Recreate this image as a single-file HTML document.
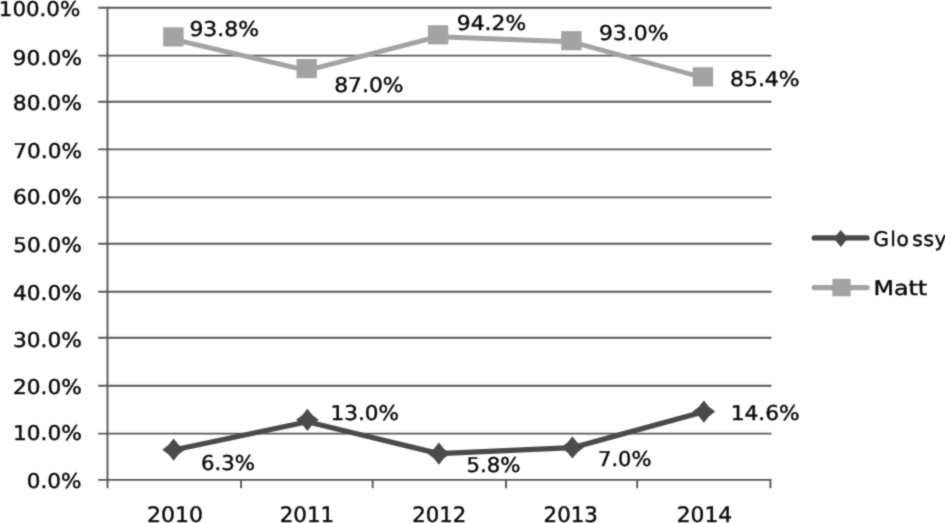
<!DOCTYPE html>
<html lang="en"><head><meta charset="utf-8"><title>Glossy vs Matt</title>
<style>
html,body{margin:0;padding:0;background:#fff;overflow:hidden}
svg{display:block}
text{font-family:"DejaVu Sans","Liberation Sans",sans-serif;fill:#0a0a0a;stroke:#111;stroke-width:0.45px;text-rendering:geometricPrecision}
</style></head><body>
<svg width="945" height="523" viewBox="0 0 945 523">
<defs><filter id="b" x="0" y="0" width="100%" height="100%" color-interpolation-filters="sRGB"><feConvolveMatrix order="3" kernelMatrix="1 3 1 3 14 3 1 3 1" divisor="30" edgeMode="duplicate" preserveAlpha="false"/></filter></defs>
<rect width="945" height="523" fill="#fff"/>
<g filter="url(#b)">

<line x1="98.2" y1="7.8" x2="771.5" y2="7.8" stroke="#585858" stroke-width="1.9"/>
<line x1="98.2" y1="55.6" x2="771.5" y2="55.6" stroke="#585858" stroke-width="1.9"/>
<line x1="98.2" y1="101.8" x2="771.5" y2="101.8" stroke="#585858" stroke-width="1.9"/>
<line x1="98.2" y1="149.4" x2="771.5" y2="149.4" stroke="#585858" stroke-width="1.9"/>
<line x1="98.2" y1="197.4" x2="771.5" y2="197.4" stroke="#585858" stroke-width="1.9"/>
<line x1="98.2" y1="243.8" x2="771.5" y2="243.8" stroke="#585858" stroke-width="1.9"/>
<line x1="98.2" y1="291.8" x2="771.5" y2="291.8" stroke="#585858" stroke-width="1.9"/>
<line x1="98.2" y1="337.8" x2="771.5" y2="337.8" stroke="#585858" stroke-width="1.9"/>
<line x1="98.2" y1="385.8" x2="771.5" y2="385.8" stroke="#585858" stroke-width="1.9"/>
<line x1="98.2" y1="433.6" x2="771.5" y2="433.6" stroke="#585858" stroke-width="1.9"/>
<line x1="98.2" y1="479.9" x2="771.5" y2="479.9" stroke="#585858" stroke-width="1.9"/>
<line x1="107.5" y1="6.8" x2="107.5" y2="488.2" stroke="#585858" stroke-width="1.9"/>
<line x1="241.1" y1="479.9" x2="241.1" y2="488.2" stroke="#585858" stroke-width="1.9"/>
<line x1="372.7" y1="479.9" x2="372.7" y2="488.2" stroke="#585858" stroke-width="1.9"/>
<line x1="506.0" y1="479.9" x2="506.0" y2="488.2" stroke="#585858" stroke-width="1.9"/>
<line x1="637.2" y1="479.9" x2="637.2" y2="488.2" stroke="#585858" stroke-width="1.9"/>
<line x1="770.4" y1="479.9" x2="770.4" y2="488.2" stroke="#585858" stroke-width="1.9"/>
<polyline points="173.4,39.4 306.7,70.4 438.1,36.7 571.4,41.8 702.9,77.5" fill="none" stroke="#a3a3a3" stroke-width="4.9" stroke-linejoin="round" stroke-linecap="round"/>
<rect x="163.2" y="27.3" width="20.4" height="19.2" fill="#a3a3a3"/>
<rect x="296.5" y="59.0" width="20.4" height="19.2" fill="#a3a3a3"/>
<rect x="427.9" y="25.2" width="20.4" height="19.2" fill="#a3a3a3"/>
<rect x="561.2" y="31.1" width="20.4" height="19.2" fill="#a3a3a3"/>
<rect x="692.7" y="67.2" width="20.4" height="19.2" fill="#a3a3a3"/>
<polyline points="173.6,450.0 307.4,421.8 438.9,453.6 572.4,447.7 703.9,411.8" fill="none" stroke="#4a4a4a" stroke-width="5.2" stroke-linejoin="round" stroke-linecap="round"/>
<polygon points="173.6,438.6 178.6,444.8 184.9,449.7 178.6,454.6 173.6,460.8 168.6,454.6 162.3,449.7 168.6,444.8" fill="#4a4a4a"/>
<polygon points="307.4,408.7 312.4,414.9 318.7,419.8 312.4,424.7 307.4,430.9 302.4,424.7 296.1,419.8 302.4,414.9" fill="#4a4a4a"/>
<polygon points="438.9,442.5 443.9,448.7 450.2,453.6 443.9,458.5 438.9,464.7 433.9,458.5 427.6,453.6 433.9,448.7" fill="#4a4a4a"/>
<polygon points="572.4,436.4 577.4,442.6 583.7,447.5 577.4,452.4 572.4,458.6 567.4,452.4 561.1,447.5 567.4,442.6" fill="#4a4a4a"/>
<polygon points="703.9,400.5 708.9,406.7 715.2,411.6 708.9,416.5 703.9,422.7 698.9,416.5 692.6,411.6 698.9,406.7" fill="#4a4a4a"/>
<line x1="814.3" y1="237.9" x2="867.0" y2="237.9" stroke="#4a4a4a" stroke-width="5.4" stroke-linecap="round"/>
<polygon points="840.8,229.9 847.9,238.3 840.8,246.9 833.7,238.3" fill="#4a4a4a"/>
<line x1="814.3" y1="287.6" x2="867.0" y2="287.6" stroke="#a3a3a3" stroke-width="5.4" stroke-linecap="round"/>
<rect x="832.4" y="278.8" width="18.3" height="17.5" fill="#a3a3a3"/>
<text transform="translate(-1.20 16.10) scale(1.0478 1)" font-size="20.4">100.0%</text>
<text transform="translate(12.60 64.60) scale(1.0724 1)" font-size="20.4">90.0%</text>
<text transform="translate(12.80 110.20) scale(1.0662 1)" font-size="20.4">80.0%</text>
<text transform="translate(13.20 157.80) scale(1.0616 1)" font-size="20.4">70.0%</text>
<text transform="translate(13.00 204.20) scale(1.0631 1)" font-size="20.4">60.0%</text>
<text transform="translate(13.20 252.20) scale(1.0600 1)" font-size="20.4">50.0%</text>
<text transform="translate(13.00 300.20) scale(1.0631 1)" font-size="20.4">40.0%</text>
<text transform="translate(13.00 346.50) scale(1.0631 1)" font-size="20.4">30.0%</text>
<text transform="translate(13.00 394.40) scale(1.0631 1)" font-size="20.4">20.0%</text>
<text transform="translate(13.00 440.30) scale(1.0631 1)" font-size="20.4">10.0%</text>
<text transform="translate(26.80 487.60) scale(1.0572 1)" font-size="20.4">0.0%</text>
<text transform="translate(147.00 521.90) scale(1.0330 1)" font-size="21.3">2010</text>
<text transform="translate(279.70 521.90) scale(1.0035 1)" font-size="21.3">2011</text>
<text transform="translate(412.30 521.90) scale(0.9980 1)" font-size="21.3">2012</text>
<text transform="translate(543.60 521.90) scale(0.9998 1)" font-size="21.3">2013</text>
<text transform="translate(676.70 521.90) scale(1.0238 1)" font-size="21.3">2014</text>
<text transform="translate(189.40 36.20) scale(1.0754 1)" font-size="20.4">93.8%</text>
<text transform="translate(334.20 92.10) scale(1.0708 1)" font-size="20.4">87.0%</text>
<text transform="translate(456.80 30.20) scale(1.0708 1)" font-size="20.4">94.2%</text>
<text transform="translate(598.90 40.20) scale(1.0754 1)" font-size="20.4">93.0%</text>
<text transform="translate(730.00 86.20) scale(1.0754 1)" font-size="20.4">85.4%</text>
<text transform="translate(201.00 469.90) scale(1.0417 1)" font-size="20.4">6.3%</text>
<text transform="translate(330.50 420.20) scale(1.0585 1)" font-size="20.4">13.0%</text>
<text transform="translate(466.40 472.10) scale(1.0437 1)" font-size="20.4">5.8%</text>
<text transform="translate(598.00 466.20) scale(1.0321 1)" font-size="20.4">7.0%</text>
<text transform="translate(730.70 420.20) scale(1.0646 1)" font-size="20.4">14.6%</text>
<text font-size="20.2" y="245.6" x="873.2 890.2 896.6 912.2 923.6 934.4">Glossy</text>
<text transform="translate(873.50 294.50) scale(1.1763 1)" font-size="20.2">Matt</text>
</g></svg></body></html>
